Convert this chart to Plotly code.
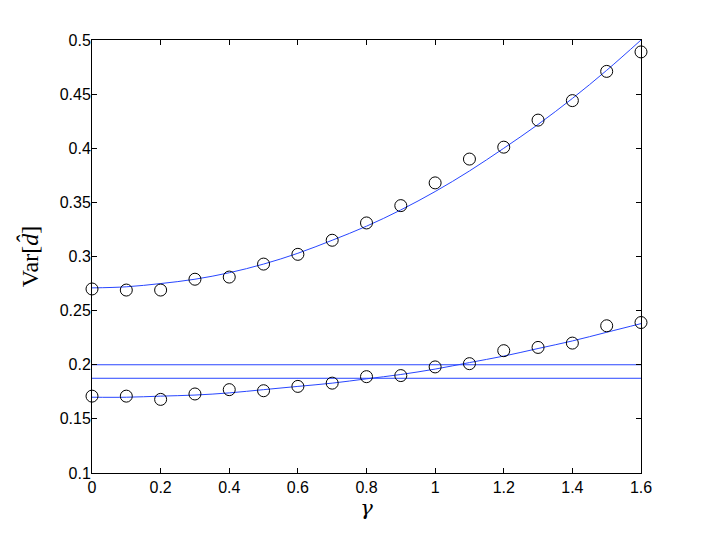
import plotly.graph_objects as go

gamma = [0.0, 0.1, 0.2, 0.3, 0.4, 0.5, 0.6, 0.7, 0.8, 0.9, 1.0, 1.1, 1.2, 1.3, 1.4, 1.5, 1.6]

upper_points = [0.270, 0.269, 0.269, 0.279, 0.281, 0.293, 0.302, 0.315, 0.331, 0.347,
                0.368, 0.390, 0.401, 0.426, 0.444, 0.471, 0.489]
lower_points = [0.171, 0.171, 0.168, 0.173, 0.177, 0.176, 0.180, 0.183, 0.189, 0.190,
                0.198, 0.201, 0.213, 0.216, 0.220, 0.236, 0.239]

upper_curve = [0.271, 0.272, 0.275, 0.279, 0.285, 0.293, 0.303, 0.315, 0.328, 0.343,
               0.360, 0.379, 0.400, 0.422, 0.446, 0.472, 0.500]
lower_curve = [0.170, 0.170, 0.171, 0.172, 0.174, 0.177, 0.180, 0.183, 0.187, 0.191,
               0.196, 0.202, 0.208, 0.215, 0.222, 0.230, 0.238]

hline_x = [0.0, 1.6]
hline_a = [0.200, 0.200]
hline_b = [0.1875, 0.1875]

x_ticks = [0, 0.2, 0.4, 0.6, 0.8, 1.0, 1.2, 1.4, 1.6]
x_tick_labels = ["0", "0.2", "0.4", "0.6", "0.8", "1", "1.2", "1.4", "1.6"]
y_ticks = [0.1, 0.15, 0.2, 0.25, 0.3, 0.35, 0.4, 0.45, 0.5]
y_tick_labels = ["0.1", "0.15", "0.2", "0.25", "0.3", "0.35", "0.4", "0.45", "0.5"]

blue = "rgb(40,70,255)"
fig = go.Figure()
for yc in (upper_curve, lower_curve):
    fig.add_trace(go.Scatter(x=gamma, y=yc, mode="lines", line=dict(color=blue, width=1, shape="spline"),
                             showlegend=False, hoverinfo="skip"))
for yh in (hline_a, hline_b):
    fig.add_trace(go.Scatter(x=hline_x, y=yh, mode="lines", line=dict(color=blue, width=1),
                             showlegend=False, hoverinfo="skip"))
for yp in (upper_points, lower_points):
    fig.add_trace(go.Scatter(x=gamma, y=yp, mode="markers",
                             marker=dict(symbol="circle-open", size=12, color="black", line=dict(width=1)),
                             showlegend=False, cliponaxis=False))

axis_common = dict(showgrid=False, zeroline=False, showline=True, linecolor="black", linewidth=1,
                   mirror="ticks", ticks="inside", ticklen=5, tickcolor="black", automargin=False,
                   tickfont=dict(family="Liberation Sans, Arial, sans-serif", size=16, color="black"))

# the page body has an 8px margin, so the figure's margins are shifted to compensate
fig.update_layout(
    width=708, height=533,
    margin=dict(l=84, r=75, t=32, b=68),
    paper_bgcolor="white", plot_bgcolor="white",
    xaxis=dict(range=[0, 1.6], tickvals=x_ticks, ticktext=x_tick_labels,
               title=dict(text="<i>γ</i>", font=dict(family="DejaVu Serif, serif", size=21, color="black"),
                          standoff=2), **axis_common),
    yaxis=dict(range=[0.1, 0.5], tickvals=y_ticks, ticktext=y_tick_labels, ticklabelstandoff=-3,
               title=dict(text="Var[<i>d̂</i>]", font=dict(family="Liberation Serif, serif", size=24, color="black"),
                          standoff=14), **axis_common),
)

fig.write_html("out.html")
